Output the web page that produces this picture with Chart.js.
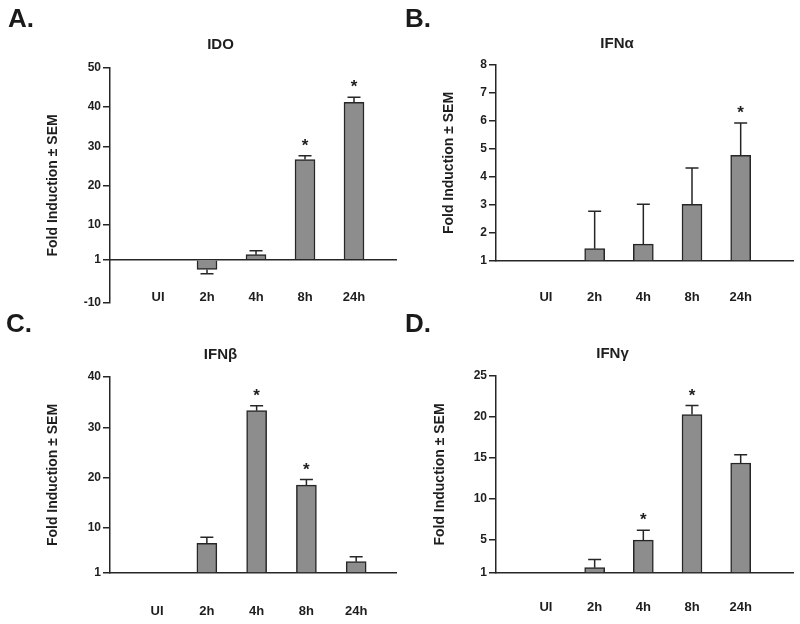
<!DOCTYPE html>
<html><head><meta charset="utf-8">
<script src="https://cdn.jsdelivr.net/npm/chart.js@4.4.0/dist/chart.umd.min.js"></script>
<style>
html,body{margin:0;padding:0;background:#fff;}
body{width:800px;height:624px;position:relative;overflow:hidden;font-family:"Liberation Sans",Arial,sans-serif;}
.p{position:absolute;width:400px;height:312px;}
.lt{position:absolute;font-weight:bold;font-size:26px;line-height:26px;color:#1a1a1a;}
</style></head><body>
<div class="p" style="left:0;top:0"><canvas id="cA" width="400" height="312"></canvas></div>
<div class="p" style="left:400px;top:0"><canvas id="cB" width="400" height="312"></canvas></div>
<div class="p" style="left:0;top:312px"><canvas id="cC" width="400" height="312"></canvas></div>
<div class="p" style="left:400px;top:312px"><canvas id="cD" width="400" height="312"></canvas></div>
<div class="lt" style="left:8px;top:5px">A.</div>
<div class="lt" style="left:405px;top:5px">B.</div>
<div class="lt" style="left:6px;top:310px">C.</div>
<div class="lt" style="left:405px;top:310px">D.</div>
<script>
const categories = ['UI', '2h', '4h', '8h', '24h'];

const idoMean = [1, -1.5, 2.3, 26.6, 41.2];
const idoSem  = [0, 1.1, 1.0, 1.0, 1.3];
const idoSig  = [false, false, false, true, true];
const idoTicks = [-10, 1, 10, 20, 30, 40, 50];

const ifnaMean = [1, 1.44, 1.6, 3.02, 4.77];
const ifnaSem  = [0, 1.34, 1.43, 1.3, 1.16];
const ifnaSig  = [false, false, false, false, true];
const ifnaTicks = [1, 2, 3, 4, 5, 6, 7, 8];

const ifnbMean = [1, 6.9, 33.3, 18.5, 3.25];
const ifnbSem  = [0, 1.2, 1.0, 1.1, 1.0];
const ifnbSig  = [false, false, true, true, false];
const ifnbTicks = [1, 10, 20, 30, 40];

const ifngMean = [1, 1.65, 5.0, 20.3, 14.4];
const ifngSem  = [0, 1.0, 1.2, 1.1, 1.0];
const ifngSig  = [false, false, true, true, false];
const ifngTicks = [1, 5, 10, 15, 20, 25];

const INK = '#262626';
Chart.defaults.font.family = "'Liberation Sans', Arial, sans-serif";
Chart.defaults.color = '#1e1e1e';

const errorBars = {
  id: 'errorBars',
  afterDatasetsDraw(chart, args, opts) {
    const ctx = chart.ctx;
    const y = chart.scales.y;
    const meta = chart.getDatasetMeta(0);
    ctx.save();
    ctx.strokeStyle = INK;
    ctx.lineWidth = 1.5;
    ctx.fillStyle = '#1e1e1e';
    ctx.font = "bold 17px 'Liberation Sans', Arial, sans-serif";
    ctx.textAlign = 'center';
    ctx.textBaseline = 'alphabetic';
    meta.data.forEach((bar, i) => {
      const v = opts.mean[i], s = opts.sem[i];
      if (!s) return;
      const dir = v >= 1 ? 1 : -1;
      const y0 = y.getPixelForValue(v);
      const y1 = y.getPixelForValue(v + dir * s);
      ctx.beginPath();
      ctx.moveTo(bar.x, y0); ctx.lineTo(bar.x, y1);
      ctx.moveTo(bar.x - 6.5, y1); ctx.lineTo(bar.x + 6.5, y1);
      ctx.stroke();
      if (opts.sig[i]) ctx.fillText('*', bar.x, y1 - 5);
    });
    ctx.restore();
  }
};

function makeChart(c) {
  return new Chart(document.getElementById(c.id), {
    type: 'bar',
    data: {
      datasets: [{
        data: categories.map((k, i) => ({x: i, y: c.mean[i]})),
        base: 1,
        backgroundColor: '#8d8d8d',
        borderColor: INK,
        borderWidth: 1.5,
        barThickness: 20
      }]
    },
    plugins: [errorBars],
    options: {
      responsive: false,
      animation: false,
      events: [],
      layout: {padding: {left: c.padL, right: c.padR, top: 0, bottom: c.padB}},
      plugins: {
        legend: {display: false},
        tooltip: {enabled: false},
        title: {display: true, text: c.title, color: '#1e1e1e',
          font: {size: 15, weight: 'bold'}, padding: {top: c.tTop, bottom: c.tBot}},
        errorBars: {mean: c.mean, sem: c.sem, sig: c.sig}
      },
      scales: {
        x: {
          type: 'linear',
          offset: false,
          position: {y: 1},
          min: c.xMin, max: c.xMax,
          afterBuildTicks: a => { a.ticks = categories.map((k, i) => ({value: i})); },
          grid: {display: false, drawTicks: false, offset: false},
          border: {display: true, color: INK, width: 1.5},
          ticks: {padding: c.labPad, maxRotation: 0, autoSkip: false,
            font: {size: 13, weight: 'bold'}, color: '#1e1e1e',
            callback: v => categories[v] ?? ''}
        },
        y: {
          type: 'linear',
          position: 'left',
          min: c.ticks[0], max: c.ticks[c.ticks.length - 1],
          afterBuildTicks: a => { a.ticks = c.ticks.map(v => ({value: v})); },
          afterFit: s => { s.width = c.axisX - c.padL; },
          grid: {display: true, drawOnChartArea: false, drawTicks: true, tickLength: 7, color: INK, lineWidth: 1.5},
          border: {display: true, color: INK, width: 1.5},
          ticks: {padding: 2, font: {size: 12, weight: 'bold'}, color: '#1e1e1e'},
          title: {display: true, text: 'Fold Induction \u00B1 SEM', color: '#1e1e1e',
            font: {size: 14, weight: 'bold'}, padding: 0}
        }
      }
    }
  });
}

makeChart({id: 'cA', title: 'IDO', mean: idoMean, sem: idoSem, sig: idoSig, ticks: idoTicks,
  padL: 45, axisX: 110, padR: 4, padB: 8, tTop: 36, tBot: 14, labPad: 29.5, xMin: -0.98, xMax: 4.857});
makeChart({id: 'cB', title: 'IFN\u03B1', mean: ifnaMean, sem: ifnaSem, sig: ifnaSig, ticks: ifnaTicks,
  padL: 41, axisX: 96, padR: 7, padB: 51, tTop: 35, tBot: 12, labPad: 29, xMin: -1.027, xMax: 5.075});
makeChart({id: 'cC', title: 'IFN\u03B2', mean: ifnbMean, sem: ifnbSem, sig: ifnbSig, ticks: ifnbTicks,
  padL: 45, axisX: 110, padR: 4, padB: 51, tTop: 34, tBot: 13, labPad: 31, xMin: -0.946, xMax: 4.8});
makeChart({id: 'cD', title: 'IFN\u03B3', mean: ifngMean, sem: ifngSem, sig: ifngSig, ticks: ifngTicks,
  padL: 32, axisX: 96, padR: 7, padB: 51, tTop: 33, tBot: 13, labPad: 27, xMin: -1.027, xMax: 5.075});
</script>
</body></html>
